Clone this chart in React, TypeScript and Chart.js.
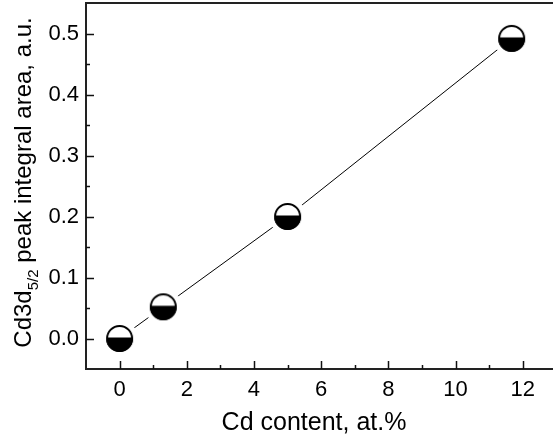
import { useEffect, useRef } from "react";
import { Chart, registerables } from "chart.js";

Chart.register(...registerables);

// ---- data ----
const cdContent = [0, 1.3, 5.0, 11.67];
const peakArea = [0.0, 0.052, 0.2, 0.492];

const xTicks = [0, 2, 4, 6, 8, 10, 12];
const xMinorTicks = [1, 3, 5, 7, 9, 11];
const yTicks = [0, 0.1, 0.2, 0.3, 0.4, 0.5];
const yMinorTicks = [0.05, 0.15, 0.25, 0.35, 0.45];

const xTitle = "Cd content, at.%";
const yTitleMain = "Cd3d";
const yTitleSub = "5/2";
const yTitleRest = " peak integral area, a.u.";

const FONT = "'Liberation Sans', Arial, sans-serif";

function makeMarker(): HTMLCanvasElement {
  const R = 13.5;
  const halo = 5;
  const size = Math.ceil((R + halo) * 2) + 2;
  const c = document.createElement("canvas");
  c.width = size;
  c.height = size;
  const g = c.getContext("2d")!;
  const cx = size / 2;
  const cy = size / 2;
  g.fillStyle = "#fff";
  g.beginPath();
  g.arc(cx, cy, R + halo, 0, Math.PI * 2);
  g.fill();
  g.save();
  g.beginPath();
  g.arc(cx, cy, R, 0, Math.PI * 2);
  g.clip();
  g.fillStyle = "#000";
  g.fillRect(cx - R - 1, cy - 1, 2 * R + 2, R + 2);
  g.restore();
  g.lineWidth = 2;
  g.strokeStyle = "#000";
  g.beginPath();
  g.arc(cx, cy, R - 1, 0, Math.PI * 2);
  g.stroke();
  return c;
}

const decorPlugin = {
  id: "decor",
  afterDraw(chart: any) {
    const ctx: CanvasRenderingContext2D = chart.ctx;
    const { left, right, top, bottom } = chart.chartArea;
    const xs = chart.scales.x;
    const ys = chart.scales.y;
    ctx.save();
    // top frame line
    ctx.strokeStyle = "#222";
    ctx.lineWidth = 2;
    ctx.beginPath();
    ctx.moveTo(left - 1, top);
    ctx.lineTo(right, top);
    ctx.stroke();
    // inward ticks
    ctx.lineWidth = 1.5;
    ctx.strokeStyle = "#111";
    const drawX = (v: number, len: number) => {
      const px = Math.round(xs.getPixelForValue(v)) + 0.5;
      ctx.beginPath();
      ctx.moveTo(px, bottom);
      ctx.lineTo(px, bottom - len);
      ctx.stroke();
    };
    const drawY = (v: number, len: number) => {
      const py = Math.round(ys.getPixelForValue(v)) + 0.5;
      ctx.beginPath();
      ctx.moveTo(left, py);
      ctx.lineTo(left + len, py);
      ctx.stroke();
    };
    xTicks.forEach((v) => drawX(v, 8));
    xMinorTicks.forEach((v) => drawX(v, 4));
    yTicks.forEach((v) => drawY(v, 8));
    yMinorTicks.forEach((v) => drawY(v, 4));

    // x title
    ctx.fillStyle = "#000";
    ctx.font = `25px ${FONT}`;
    ctx.textAlign = "center";
    ctx.textBaseline = "alphabetic";
    ctx.fillText(xTitle, 314, 430);

    // y title (rotated, with subscript)
    const mainFont = `24px ${FONT}`;
    const subFont = `15px ${FONT}`;
    ctx.font = mainFont;
    const w1 = ctx.measureText(yTitleMain).width;
    const w3 = ctx.measureText(yTitleRest).width;
    ctx.font = subFont;
    const w2 = ctx.measureText(yTitleSub).width;
    const total = w1 + w2 + w3;
    ctx.translate(31, 182.5);
    ctx.rotate(-Math.PI / 2);
    ctx.textAlign = "left";
    let x0 = -total / 2;
    ctx.font = mainFont;
    ctx.fillText(yTitleMain, x0, 0);
    x0 += w1;
    ctx.font = subFont;
    ctx.fillText(yTitleSub, x0, 7);
    x0 += w2;
    ctx.font = mainFont;
    ctx.fillText(yTitleRest, x0, 0);
    ctx.restore();
  },
};

export default function App() {
  const ref = useRef<HTMLCanvasElement>(null);
  useEffect(() => {
    const marker = makeMarker();
    const chart = new Chart(ref.current!, {
      type: "line",
      data: {
        datasets: [
          {
            data: cdContent.map((x, i) => ({ x, y: peakArea[i] })),
            borderColor: "#000",
            borderWidth: 1,
            pointStyle: marker as any,
            pointRadius: 14,
            pointHoverRadius: 14,
            fill: false,
            tension: 0,
            clip: false as any,
          },
        ],
      },
      options: {
        responsive: false,
        animation: false,
        devicePixelRatio: 1,
        layout: { autoPadding: false, padding: { top: 3, right: 0, left: 0, bottom: 0 } },
        plugins: { legend: { display: false }, tooltip: { enabled: false } },
        scales: {
          x: {
            type: "linear",
            min: -1,
            max: 12.9,
            grid: { display: false, drawTicks: false, tickLength: 0 },
            border: { display: true, color: "#222", width: 2 },
            afterBuildTicks: (s: any) => {
              s.ticks = xTicks.map((v) => ({ value: v }));
            },
            afterFit: (s: any) => {
              s.height = 73;
              s.paddingLeft = 0;
              s.paddingRight = 0;
            },
            ticks: {
              color: "#000",
              padding: 8,
              maxRotation: 0,
              font: { size: 22, family: FONT },
              callback: (v: any) => String(v),
            },
          },
          y: {
            type: "linear",
            min: -0.05,
            max: 0.55,
            grid: { display: false, drawTicks: false, tickLength: 0 },
            border: { display: true, color: "#222", width: 2 },
            afterBuildTicks: (s: any) => {
              s.ticks = yTicks.map((v) => ({ value: v }));
            },
            afterFit: (s: any) => {
              s.width = 86;
              s.paddingTop = 0;
              s.paddingBottom = 0;
            },
            ticks: {
              color: "#000",
              padding: 7,
              font: { size: 22, family: FONT },
              callback: (v: any) => Number(v).toFixed(1),
            },
          },
        },
      },
      plugins: [decorPlugin],
    });
    return () => chart.destroy();
  }, []);
  return (
    <div style={{ position: "absolute", left: 0, top: 0, width: 553, height: 442 }}>
      <canvas ref={ref} width={553} height={442} style={{ display: "block" }} />
    </div>
  );
}
